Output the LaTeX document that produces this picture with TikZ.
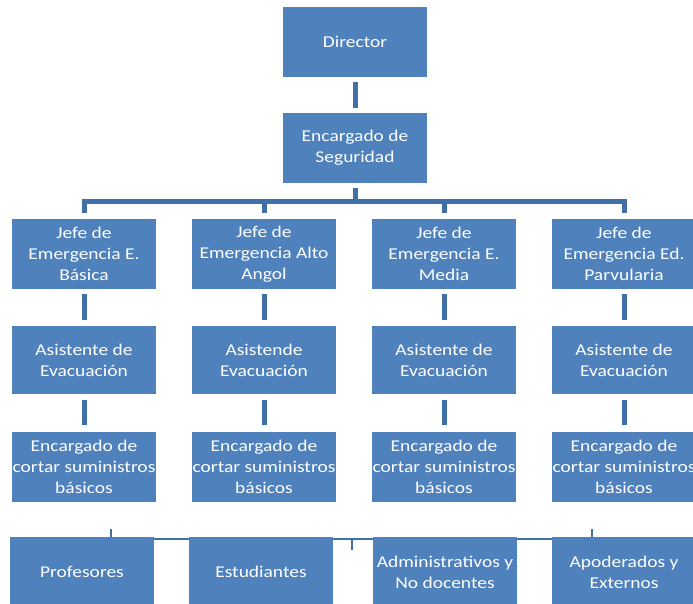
\documentclass[tikz,border=0pt]{standalone}
\usepackage{fontspec}
\setmainfont{Carlito}
\newfontfamily\orgfont[FakeStretch=1.18]{Carlito}
\usetikzlibrary{positioning}
\definecolor{boxblue}{HTML}{4F81BD}
\definecolor{lineblue}{HTML}{4170A8}
\tikzset{
  org/.style={fill=boxblue, text=white, minimum width=144pt, minimum height=70pt,
    inner sep=0pt, align=center, font=\orgfont\fontsize{16.5}{21}\selectfont},
  link/.style={draw=lineblue, line width=5pt},
  thinlink/.style={draw=lineblue, line width=1.3pt}
}

\begin{document}
\begin{tikzpicture}[x=1pt,y=-1pt]
  \useasboundingbox (0,0) rectangle (693,603);
  \clip (0,0) rectangle (693,603);
  \node[org] (dir) at (355,42) {Director};
  \node[org] (seg) at (355,148) {Encargado de\\Seguridad};
  \foreach \i/\x/\jefe/\asis in {
      1/84/{Jefe de\\Emergencia E.\\Básica}/{Asistente de\\Evacuación},
      2/264/{Jefe de\\Emergencia Alto\\Angol}/{Asistende\\Evacuación},
      3/444/{Jefe de\\Emergencia E.\\Media}/{Asistente de\\Evacuación},
      4/624/{Jefe de\\Emergencia Ed.\\Parvularia}/{Asistente de\\Evacuación}}{
    \node[org] (j\i) at (\x,254) {\jefe};
    \node[org, minimum height=68pt] (a\i) at (\x,360) {\asis};
    \node[org] (c\i) at (\x,466.5) {Encargado de\\cortar suministros\\básicos};
    \draw[link] ([yshift=-5pt]j\i.south) -- ([yshift=6pt]a\i.north);
    \draw[link] ([yshift=-6pt]a\i.south) -- ([yshift=6pt]c\i.north);
  }
  \draw[link] ([yshift=-5pt]dir.south) -- ([yshift=5pt]seg.north);
  \coordinate (bus) at (355,201);
  \draw[link] ([yshift=-5pt]seg.south) -- (bus);
  \draw[link, line join=miter] ([yshift=6pt]j1.north) |- (bus) -| ([yshift=6pt]j4.north);
  \draw[link] (j2.north |- bus) -- ([yshift=6pt]j2.north);
  \draw[link] (j3.north |- bus) -- ([yshift=6pt]j3.north);
  \coordinate (hub) at (352,539);
  \coordinate (t1) at (111,529);
  \coordinate (t2) at (352,550);
  \coordinate (t3) at (592,529);
  \draw[thinlink] (t1) |- (hub) -| (t3);
  \draw[thinlink] (hub) -- (t2);
  \node[org] (prof) at (82,572) {Profesores};
  \node[org] (est) at (261,572) {Estudiantes};
  \node[org] (adm) at (445,572) {Administrativos y\\No docentes};
  \node[org] (apo) at (624,572) {Apoderados y\\Externos};
\end{tikzpicture}
\end{document}
